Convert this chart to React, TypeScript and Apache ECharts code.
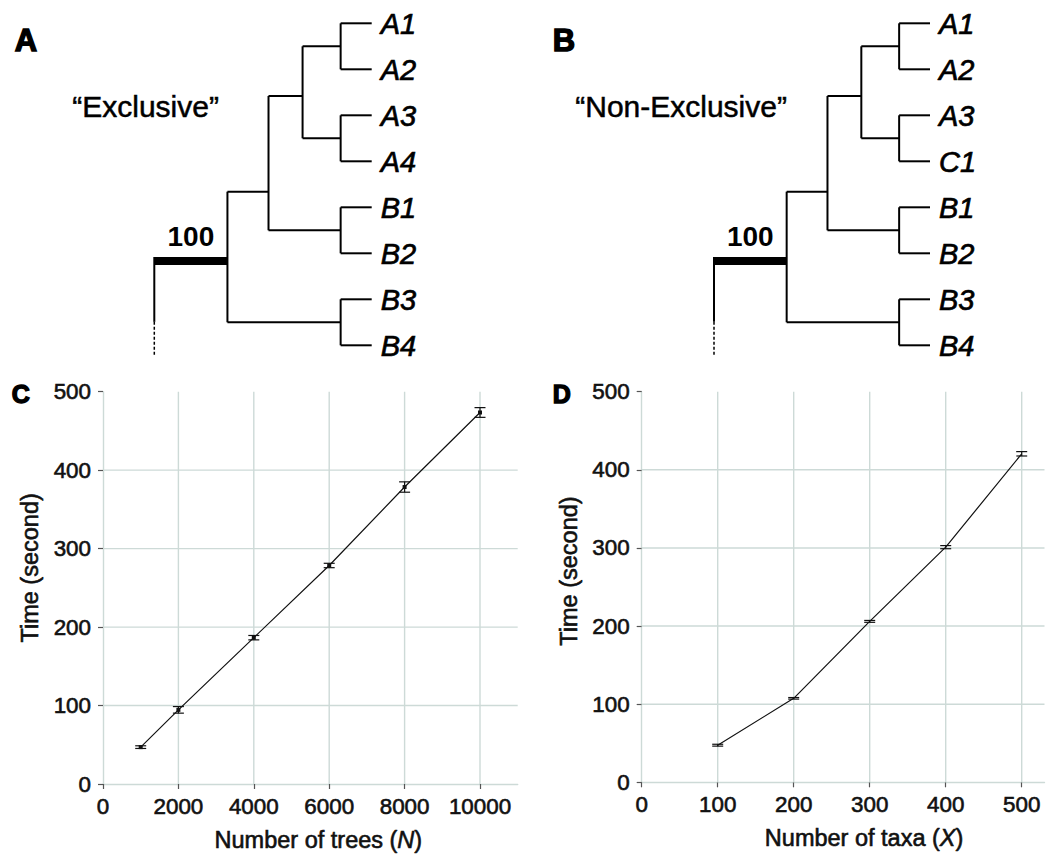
import React, { useEffect, useRef } from 'react';
import * as echarts from 'echarts';

const FONT = "'Liberation Sans', Arial, Helvetica, sans-serif";
const GRID_COLOR = '#cddad7';
const TICK_COLOR = '#555555';
const TEXT_COLOR = '#111111';

// ---------- Panel A / B: trees ----------
const leavesA = ['A1', 'A2', 'A3', 'A4', 'B1', 'B2', 'B3', 'B4'];
const leavesB = ['A1', 'A2', 'A3', 'C1', 'B1', 'B2', 'B3', 'B4'];
const TIP_DEPTH = 217;
const cladeNodes: Record<string, { depth: number; kids: (number | string)[]; attachY?: number }> = {
  c12: { depth: 186, kids: [0, 1] },
  c34: { depth: 186, kids: [2, 3] },
  c56: { depth: 186, kids: [4, 5] },
  c78: { depth: 186, kids: [6, 7] },
  cA: { depth: 148, kids: ['c12', 'c34'], attachY: 1.58 },
  cAB: { depth: 114, kids: ['cA', 'c56'], attachY: 3.66 },
  crown: { depth: 73, kids: ['cAB', 'c78'], attachY: 5.17 },
};
const supportValue = 100;
const stemSolidEnd = 6.49;
const stemDashEnd = 7.25;
const treeTitles = ['“Exclusive”', '“Non-Exclusive”'];

// ---------- Panel C ----------
const treesN = [1000, 2000, 4000, 6000, 8000, 10000];
const timeTrees = [47, 94.5, 186.5, 278.5, 378.5, 473.5];
const errTrees = [1.7, 4.2, 2.8, 2.8, 6.6, 6.2];
const xTicksC = [0, 2000, 4000, 6000, 8000, 10000];

// ---------- Panel D ----------
const taxaX = [100, 200, 300, 400, 500];
const timeTaxa = [47.5, 107.5, 206, 301, 420.5];
const errTaxa = [1.2, 1, 1.2, 2, 2.8];
const xTicksD = [0, 100, 200, 300, 400, 500];

const yTicks = [0, 100, 200, 300, 400, 500];
const yGridLines = [100, 200, 300, 400];

function buildTreeSegments(): number[][] {
  const ys: Record<string, number> = {};
  const yOf = (k: number | string): number => {
    if (typeof k === 'number') return k;
    if (ys[k] !== undefined) return ys[k];
    const n = cladeNodes[k];
    const kidYs = n.kids.map(yOf);
    const y = n.attachY !== undefined ? n.attachY : (Math.min(...kidYs) + Math.max(...kidYs)) / 2;
    ys[k] = y;
    return y;
  };
  const depthOf = (k: number | string) => (typeof k === 'number' ? TIP_DEPTH : cladeNodes[k].depth);
  const segs: number[][] = [];
  Object.keys(cladeNodes).forEach((id) => {
    const n = cladeNodes[id];
    const kidYs = n.kids.map(yOf);
    segs.push([n.depth, Math.min(...kidYs), n.depth, Math.max(...kidYs), 2, 0]);
    n.kids.forEach((k) => {
      segs.push([n.depth, yOf(k), depthOf(k), yOf(k), 2, 0]);
    });
  });
  const crownY = yOf('crown');
  segs.push([0, crownY, cladeNodes.crown.depth, crownY, 8, 0]);
  segs.push([0, crownY - 0.09, 0, stemSolidEnd, 2, 0]);
  segs.push([0, stemSolidEnd, 0, stemDashEnd, 1.5, 1]);
  return segs;
}

function treeSeries(idx: number, leaves: string[]): any[] {
  const segs = buildTreeSegments();
  const crown = cladeNodes.crown;
  return [
    {
      type: 'custom',
      xAxisIndex: idx,
      yAxisIndex: idx,
      data: segs,
      encode: { x: [0, 2], y: [1, 3] },
      clip: false,
      silent: true,
      renderItem: (params: any, api: any) => {
        const p1 = api.coord([api.value(0), api.value(1)]);
        const p2 = api.coord([api.value(2), api.value(3)]);
        const dashed = api.value(5) === 1;
        return {
          type: 'line',
          shape: { x1: p1[0], y1: p1[1], x2: p2[0], y2: p2[1] },
          style: {
            stroke: '#000',
            lineWidth: api.value(4),
            lineDash: dashed ? [3, 2] : null,
            lineCap: 'butt',
          },
        };
      },
    },
    {
      type: 'custom',
      xAxisIndex: idx,
      yAxisIndex: idx,
      data: leaves.map((_, i) => [TIP_DEPTH, i]),
      clip: false,
      silent: true,
      renderItem: (params: any, api: any) => {
        const p = api.coord([api.value(0), api.value(1)]);
        return {
          type: 'text',
          x: p[0] + 9,
          y: p[1] + 1,
          style: {
            text: leaves[params.dataIndex],
            font: `italic 29px ${FONT}`,
            fill: '#000',
            stroke: '#000',
            lineWidth: 0.7,
            align: 'left',
            verticalAlign: 'middle',
          },
        };
      },
    },
    {
      type: 'custom',
      xAxisIndex: idx,
      yAxisIndex: idx,
      data: [[crown.depth / 2, crown.attachY as number]],
      clip: false,
      silent: true,
      renderItem: (params: any, api: any) => {
        const p = api.coord([api.value(0), api.value(1)]);
        return {
          type: 'text',
          x: p[0],
          y: p[1] - 25,
          style: {
            text: String(supportValue),
            font: `bold 28px ${FONT}`,
            fill: '#000',
            align: 'center',
            verticalAlign: 'middle',
          },
        };
      },
    },
  ];
}

function chartSeries(
  idx: number,
  xs: number[],
  ys: number[],
  errs: number[],
  xMax: number,
  xGrid: number[],
  withMarker: boolean
): any[] {
  return [
    {
      type: 'custom',
      xAxisIndex: idx,
      yAxisIndex: idx,
      data: xGrid.map((v) => [v, 0]),
      silent: true,
      clip: false,
      z: 1,
      renderItem: (params: any, api: any) => {
        const p1 = api.coord([api.value(0), 0]);
        const p2 = api.coord([api.value(0), 500]);
        return {
          type: 'line',
          shape: { x1: p1[0], y1: p1[1], x2: p2[0], y2: p2[1] },
          style: { stroke: GRID_COLOR, lineWidth: 1.4 },
        };
      },
    },
    {
      type: 'custom',
      xAxisIndex: idx,
      yAxisIndex: idx,
      data: yGridLines.map((v) => [0, v]),
      silent: true,
      clip: false,
      z: 1,
      renderItem: (params: any, api: any) => {
        const p1 = api.coord([0, api.value(1)]);
        const p2 = api.coord([xMax, api.value(1)]);
        return {
          type: 'line',
          shape: { x1: p1[0], y1: p1[1], x2: p2[0], y2: p2[1] },
          style: { stroke: GRID_COLOR, lineWidth: 1.4 },
        };
      },
    },
    {
      type: 'line',
      xAxisIndex: idx,
      yAxisIndex: idx,
      data: xs.map((x, i) => [x, ys[i]]),
      showSymbol: false,
      symbol: 'none',
      lineStyle: { color: '#111', width: 1.2 },
      silent: true,
      z: 3,
    },
    {
      type: 'custom',
      xAxisIndex: idx,
      yAxisIndex: idx,
      data: xs.map((x, i) => [x, ys[i], ys[i] - errs[i], ys[i] + errs[i]]),
      encode: { x: 0, y: [1, 2, 3] },
      silent: true,
      clip: false,
      z: 4,
      renderItem: (params: any, api: any) => {
        const x = api.value(0);
        const pm = api.coord([x, api.value(1)]);
        const pl = api.coord([x, api.value(2)]);
        const ph = api.coord([x, api.value(3)]);
        const hw = 5.5;
        const st = { stroke: '#111', lineWidth: 1.2 };
        const children: any[] = [
          { type: 'line', shape: { x1: pl[0], y1: pl[1], x2: ph[0], y2: ph[1] }, style: st },
          { type: 'line', shape: { x1: pl[0] - hw, y1: pl[1], x2: pl[0] + hw, y2: pl[1] }, style: st },
          { type: 'line', shape: { x1: ph[0] - hw, y1: ph[1], x2: ph[0] + hw, y2: ph[1] }, style: st },
        ];
        if (withMarker) {
          children.push({
            type: 'rect',
            shape: { x: pm[0] - 2, y: pm[1] - 2, width: 4, height: 4 },
            style: { fill: '#111' },
          });
        }
        return { type: 'group', children };
      },
    },
  ];
}

const axisText = {
  fontFamily: FONT,
  fontSize: 22,
  color: TEXT_COLOR,
  textBorderColor: TEXT_COLOR,
  textBorderWidth: 0.6,
};

function valueXAxis(idx: number, max: number, ticks: number[], name: string, shift: number): any {
  return {
    type: 'value',
    gridIndex: idx,
    min: 0,
    max,
    name,
    nameLocation: 'middle',
    nameGap: 44,
    nameTextStyle: {
      ...axisText,
      fontSize: 23.5,
      padding: [0, 0, 0, shift * 2],
      rich: { i: { ...axisText, fontSize: 23.5, fontStyle: 'italic' } },
    },
    axisLine: { show: true, lineStyle: { color: GRID_COLOR, width: 1.4 } },
    axisTick: { show: true, length: 5, customValues: ticks, lineStyle: { color: TICK_COLOR, width: 1.2 } },
    axisLabel: {
      ...axisText,
      fontSize: 22.4,
      customValues: ticks,
      margin: 11,
      formatter: (v: number) => String(v),
    },
    splitLine: { show: false },
  };
}

function valueYAxis(idx: number, shiftUp: number): any {
  return {
    type: 'value',
    gridIndex: idx,
    min: 0,
    max: 500,
    interval: 100,
    name: 'Time (second)',
    nameLocation: 'middle',
    nameGap: 61,
    nameTextStyle: { ...axisText, fontSize: 23.5, padding: [0, 0, 0, shiftUp * 2] },
    axisLine: { show: true, lineStyle: { color: GRID_COLOR, width: 1.4 } },
    axisTick: { show: true, length: 5, customValues: yTicks, lineStyle: { color: TICK_COLOR, width: 1.2 } },
    axisLabel: { ...axisText, fontSize: 22.4, customValues: yTicks, margin: 12, formatter: (v: number) => String(v) },
    splitLine: { show: false },
  };
}

const hiddenAxis = (idx: number, min: number, max: number, inverse = false): any => ({
  type: 'value',
  gridIndex: idx,
  min,
  max,
  inverse,
  show: false,
  splitLine: { show: false },
});

function buildOption(): any {
  const cMax = 11000;
  const dMax = 530;
  const letter = (t: string, left: number, top: number, size: number) => ({
    type: 'text',
    left,
    top,
    style: { text: t, font: `bold ${size}px ${FONT}`, fill: '#000', stroke: '#000', lineWidth: 1.4 },
  });
  return {
    animation: false,
    backgroundColor: '#ffffff',
    textStyle: { fontFamily: FONT },
    grid: [
      { left: 154.3, top: 23.3, width: 217.4, height: 322 },
      { left: 714, top: 23.3, width: 216, height: 322 },
      { left: 103, top: 391.7, width: 414.7, height: 392.3 },
      { left: 641.7, top: 391.7, width: 402.8, height: 390.6 },
    ],
    xAxis: [
      hiddenAxis(0, 0, TIP_DEPTH),
      hiddenAxis(1, 0, TIP_DEPTH),
      valueXAxis(2, cMax, xTicksC, 'Number of trees ({i|N})', 8),
      valueXAxis(3, dMax, xTicksD, 'Number of taxa ({i|X})', 21),
    ],
    yAxis: [
      hiddenAxis(0, 0, 7, true),
      hiddenAxis(1, 0, 7, true),
      valueYAxis(2, 20),
      valueYAxis(3, 16),
    ],
    graphic: [
      letter('A', 14, 24, 31),
      letter('B', 552, 24, 31),
      letter('C', 11, 381, 25),
      letter('D', 552, 381, 25),
      { type: 'text', left: 72, top: 91, style: { text: treeTitles[0], font: `30px ${FONT}`, fill: '#000', stroke: '#000', lineWidth: 0.5 } },
      { type: 'text', left: 575, top: 91, style: { text: treeTitles[1], font: `30px ${FONT}`, fill: '#000', stroke: '#000', lineWidth: 0.5 } },
    ],
    series: [
      ...treeSeries(0, leavesA),
      ...treeSeries(1, leavesB),
      ...chartSeries(2, treesN, timeTrees, errTrees, cMax, xTicksC.slice(1), true),
      ...chartSeries(3, taxaX, timeTaxa, errTaxa, dMax, xTicksD.slice(1), false),
    ],
  };
}

export default function App() {
  const ref = useRef<HTMLDivElement>(null);
  useEffect(() => {
    document.body.style.margin = '0';
    const chart = echarts.init(ref.current as HTMLDivElement, null, { renderer: 'svg' });
    chart.setOption(buildOption());
    return () => chart.dispose();
  }, []);
  return <div ref={ref} style={{ width: 1048, height: 855 }} />;
}
